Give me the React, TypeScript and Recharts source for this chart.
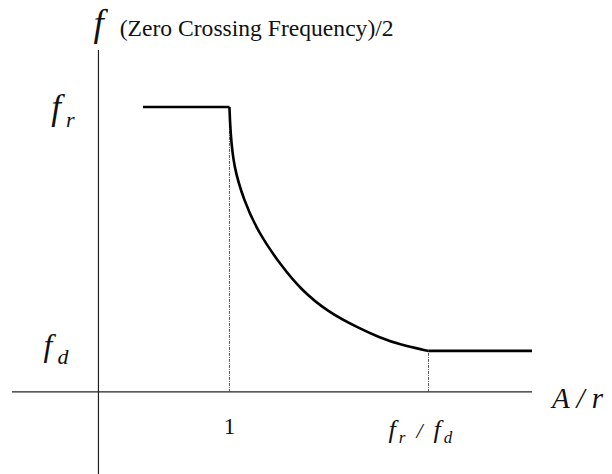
import { LineChart, Line, XAxis, YAxis, ReferenceLine, ReferenceDot } from 'recharts'

// normalised levels: f_r = 1, f_d read against it; A/r where the curve flattens out
const F_R = 1
const F_D = 0.144
const RATIO = 2.52

const xRange = [-0.66, 3.31]
const yRange = [-0.288, 1.2]

// flat part before A/r = 1
const plateauX = [0.34, 1]
const plateauY = [F_R, F_R]

// decay from f_r down to f_d
const decayX = [1, 1.008, 1.033, 1.109, 1.221, 1.397, 1.542, 1.748, 2.0, 2.137, 2.305, RATIO]
const decayY = [F_R, 0.909, 0.789, 0.674, 0.558, 0.442, 0.361, 0.281, 0.221, 0.193, 0.165, F_D]

// flat again past f_r / f_d
const floorX = [RATIO, 3.31]
const floorY = [F_D, F_D]

const toPoints = (xs: number[], ys: number[]) => xs.map((x, i) => ({ x, y: ys[i] }))
const plateau = toPoints(plateauX, plateauY)
const decay = toPoints(decayX, decayY)
const floor = toPoints(floorX, floorY)

const serif = "'Liberation Serif', 'Times New Roman', 'DejaVu Serif', serif"
const ink = '#111'

function Fsub({ x, y, sub, size, subSize }: { x: number; y: number; sub: string; size: number; subSize: number }) {
  return (
    <text x={x} y={y} fill={ink} textAnchor="end" style={{ fontFamily: serif, fontStyle: 'italic' }}>
      <tspan fontSize={size}>f</tspan>
      <tspan fontSize={subSize} dx={5} dy={8}>{sub}</tspan>
    </text>
  )
}

export default function App() {
  return (
    <div style={{ position: 'absolute', top: 0, left: 0, width: 612, height: 474, background: '#fff' }}>
      <LineChart
        width={612}
        height={474}
        margin={{ top: 50, right: 80, left: 12, bottom: 0 }}
      >
        <XAxis type="number" dataKey="x" domain={xRange} allowDataOverflow hide />
        <YAxis type="number" dataKey="y" domain={yRange} allowDataOverflow hide />

        {/* crossing axes */}
        <ReferenceLine
          x={0}
          stroke="#222"
          strokeWidth={1.2}
          label={(p: any) => (
            <text x={p.viewBox.x - 5} y={p.viewBox.y - 14} fill={ink} style={{ fontFamily: serif }}>
              <tspan fontSize={37} fontStyle="italic">f</tspan>
              <tspan fontSize={23.6} dx={16}>(Zero Crossing Frequency)/2</tspan>
            </text>
          )}
        />
        <ReferenceLine
          y={0}
          stroke="#222"
          strokeWidth={1.2}
          label={(p: any) => (
            <text
              x={p.viewBox.x + p.viewBox.width + 20}
              y={p.viewBox.y + 16}
              fontSize={29}
              fill={ink}
              style={{ fontFamily: serif, fontStyle: 'italic' }}
            >
              A / r
            </text>
          )}
        />

        {/* guides down to the x axis */}
        <ReferenceLine
          segment={[{ x: 1, y: 0 }, { x: 1, y: F_R }]}
          stroke="#444"
          strokeWidth={0.9}
          strokeDasharray="3 1 1 1"
          label={(p: any) => (
            <text
              x={p.viewBox.x}
              y={p.viewBox.y + p.viewBox.height + 42}
              fontSize={23}
              fill={ink}
              textAnchor="middle"
              style={{ fontFamily: serif }}
            >
              1
            </text>
          )}
        />
        <ReferenceLine
          segment={[{ x: RATIO, y: 0 }, { x: RATIO, y: F_D }]}
          stroke="#444"
          strokeWidth={0.9}
          strokeDasharray="3 1 1 1"
          label={(p: any) => (
            <text
              x={p.viewBox.x - 40}
              y={p.viewBox.y + p.viewBox.height + 46}
              fill={ink}
              style={{ fontFamily: serif, fontStyle: 'italic' }}
            >
              <tspan fontSize={26}>f</tspan>
              <tspan fontSize={17} dx={3} dy={5}>r</tspan>
              <tspan fontSize={22} dx={11} dy={-5}>/</tspan>
              <tspan fontSize={26} dx={11}>f</tspan>
              <tspan fontSize={17} dx={3} dy={5}>d</tspan>
            </text>
          )}
        />

        {/* level labels left of the y axis */}
        <ReferenceDot
          x={0}
          y={F_R}
          r={0}
          stroke="none"
          fill="none"
          label={(p: any) => <Fsub x={p.viewBox.x - 24} y={p.viewBox.y + 12} sub="r" size={35} subSize={22} />}
        />
        <ReferenceDot
          x={0}
          y={F_D}
          r={0}
          stroke="none"
          fill="none"
          label={(p: any) => <Fsub x={p.viewBox.x - 30} y={p.viewBox.y + 5} sub="d" size={32} subSize={22} />}
        />

        <Line data={plateau} dataKey="y" type="linear" stroke="#000" strokeWidth={2.6} dot={false} isAnimationActive={false} />
        <Line data={decay} dataKey="y" type="basis" stroke="#000" strokeWidth={2.6} dot={false} isAnimationActive={false} />
        <Line data={floor} dataKey="y" type="linear" stroke="#000" strokeWidth={2.6} dot={false} isAnimationActive={false} />
      </LineChart>
    </div>
  )
}
